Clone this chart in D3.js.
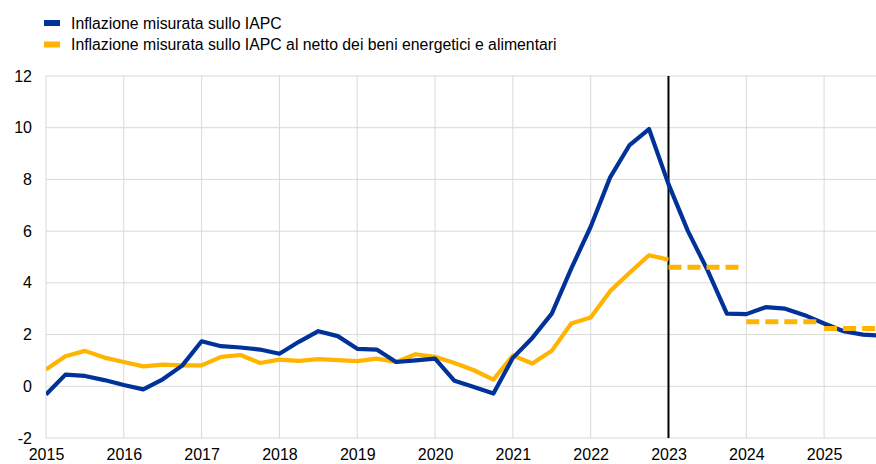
<!DOCTYPE html>
<html>
<head>
<meta charset="utf-8">
<script src="https://cdn.jsdelivr.net/npm/d3@7"></script>
<style>
  html, body { margin: 0; padding: 0; background: #fff; }
  svg { display: block; font-family: "Liberation Sans", Arial, sans-serif; }
</style>
</head>
<body>
<svg id="chart" width="876" height="464"></svg>
<script>
// ---- Data ----
const seriesNames = [
  "Inflazione misurata sullo IAPC",
  "Inflazione misurata sullo IAPC al netto dei beni energetici e alimentari"
];
const startYear = 2015;          // first quarter = 2015 Q1
const hicp = [
  -0.32, 0.45, 0.40, 0.24,
   0.05, -0.12, 0.27, 0.80,
   1.74, 1.55, 1.50, 1.42,
   1.26, 1.72, 2.13, 1.94,
   1.45, 1.42, 0.94, 1.00,
   1.07, 0.21, -0.03, -0.28,
   1.10, 1.87, 2.81, 4.55,
   6.17, 8.08, 9.33, 9.95,
   7.82, 6.00, 4.50, 2.81,
   2.79, 3.06, 3.00, 2.75,
   2.43, 2.13, 2.00, 1.95
];
const core = [
  0.65, 1.16, 1.37, 1.11,
  0.94, 0.77, 0.84, 0.81,
  0.81, 1.14, 1.21, 0.90,
  1.03, 0.98, 1.05, 1.01,
  0.97, 1.07, 0.94, 1.24,
  1.14, 0.90, 0.62, 0.26,
  1.19, 0.88, 1.37, 2.43,
  2.66, 3.68, 4.39, 5.07,
  4.90
];
// annual projections for core inflation (dashed)
const projYears = [2023, 2024, 2025];
const projCore = [4.60, 2.50, 2.23];
const projSpan = 0.9; // fraction of the year covered by each dashed segment
const markerYear = 2023;
const yTicks = [-2, 0, 2, 4, 6, 8, 10, 12];
const xTicks = [2015, 2016, 2017, 2018, 2019, 2020, 2021, 2022, 2023, 2024, 2025];

const colors = ["#003299", "#FFB400"];

// ---- Layout ----
const svg = d3.select("#chart");
const x = d3.scaleLinear().domain([2015, 2025.667]).range([46, 876]);
const y = d3.scaleLinear().domain([-2, 12]).range([438, 76]);

svg.append("defs").append("clipPath").attr("id", "clip")
  .append("rect").attr("x", 46).attr("y", 60).attr("width", 830).attr("height", 400);

// gridlines
const grid = svg.append("g");
grid.selectAll("line.h").data(yTicks).join("line")
  .attr("x1", x(2015)).attr("x2", 876)
  .attr("y1", d => y(d)).attr("y2", d => y(d))
  .attr("stroke", "#d9d9d9").attr("stroke-width", 1);
grid.selectAll("line.v").data(xTicks).join("line")
  .attr("x1", d => x(d)).attr("x2", d => x(d))
  .attr("y1", y(12)).attr("y2", y(-2))
  .attr("stroke", "#d9d9d9").attr("stroke-width", 1);

// axes (labels only)
const yAxis = svg.append("g").attr("transform", `translate(${x(2015)},0)`)
  .call(d3.axisLeft(y).tickValues(yTicks).tickSize(0).tickPadding(14).tickFormat(d => String(d)));
yAxis.select(".domain").remove();
yAxis.selectAll("text").attr("font-size", 16).attr("fill", "#000")
  .attr("font-family", "Liberation Sans, Arial, sans-serif");

const xAxis = svg.append("g").attr("transform", `translate(0,${y(-2)})`)
  .call(d3.axisBottom(x).tickValues(xTicks).tickSize(0).tickPadding(11).tickFormat(d => String(d)));
xAxis.select(".domain").remove();
xAxis.selectAll("text").attr("font-size", 16).attr("fill", "#000")
  .attr("font-family", "Liberation Sans, Arial, sans-serif");

// vertical marker
svg.append("line")
  .attr("x1", x(markerYear)).attr("x2", x(markerYear))
  .attr("y1", y(12)).attr("y2", y(-2))
  .attr("stroke", "#000").attr("stroke-width", 2);

const plot = svg.append("g").attr("clip-path", "url(#clip)");
const line = d3.line().x(d => x(d[0])).y(d => y(d[1]));
const toPts = arr => arr.map((v, i) => [startYear + i / 4, v]);

plot.append("path").datum(toPts(core))
  .attr("d", line).attr("fill", "none")
  .attr("stroke", colors[1]).attr("stroke-width", 4.2).attr("stroke-linejoin", "round");

plot.append("path").datum(toPts(hicp))
  .attr("d", line).attr("fill", "none")
  .attr("stroke", colors[0]).attr("stroke-width", 4.2).attr("stroke-linejoin", "round");

plot.selectAll("path.proj").data(projYears.map((yr, i) => [[yr, projCore[i]], [yr + projSpan, projCore[i]]]))
  .join("path").attr("class", "proj")
  .attr("d", line).attr("fill", "none")
  .attr("stroke", colors[1]).attr("stroke-width", 5)
  .attr("stroke-dasharray", "13,6");

// legend
const legend = svg.append("g");
seriesNames.forEach((name, i) => {
  const yy = 23 + i * 21.5;
  legend.append("rect").attr("x", 44).attr("y", yy - 3).attr("width", 16).attr("height", 6)
    .attr("fill", colors[i]);
  legend.append("text").attr("x", 71).attr("y", yy + 5.5)
    .attr("font-size", 15.8).attr("fill", "#000").text(name);
});
</script>
</body>
</html>
